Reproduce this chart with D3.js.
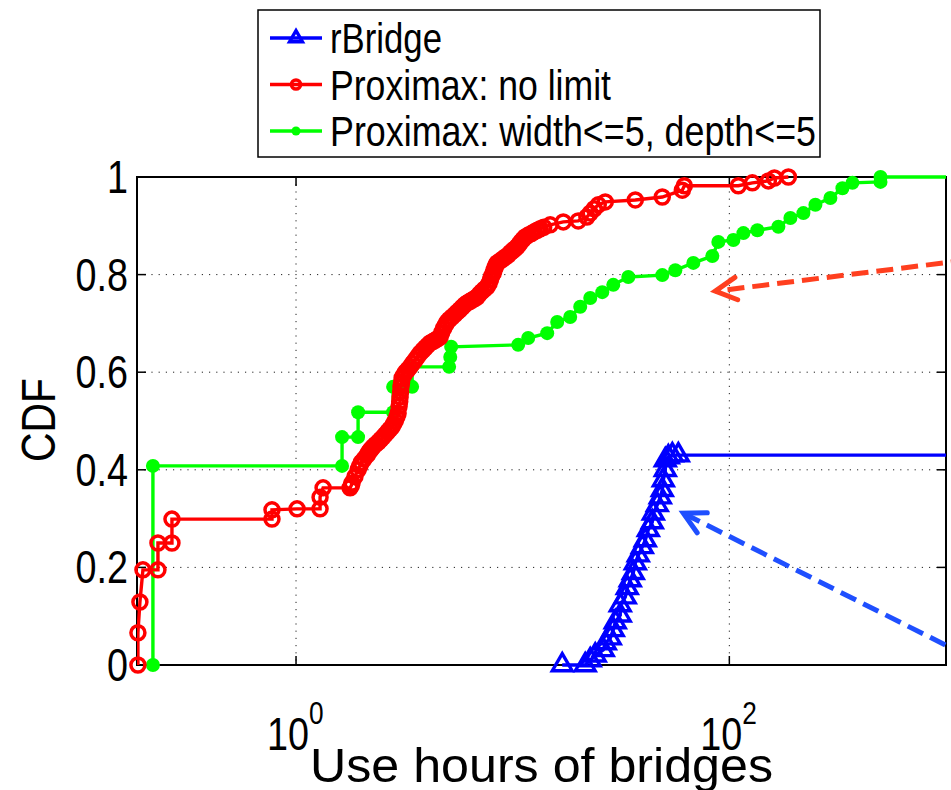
<!DOCTYPE html>
<html>
<head>
<meta charset="utf-8">
<script src="https://cdn.jsdelivr.net/npm/d3@7/dist/d3.min.js"></script>
<style>
  body { margin: 0; background: #fff; }
  svg text { font-family: "Liberation Sans", Arial, sans-serif; fill: #000; }
</style>
</head>
<body>
<div id="chart"></div>
<script>
// ticks
const X_TICKS = [1, 100];
const X_TICK_EXP = ['0', '2'];
const Y_TICKS = [0, 0.2, 0.4, 0.6, 0.8, 1];
const Y_TICK_LABELS = ['0', '0.2', '0.4', '0.6', '0.8', '1'];
const Y_GRID = [0.2, 0.4, 0.6, 0.8];

// rBridge (stairs vertices, hours / cdf)
const rbHours = [16.93, 21.62, 22.80, 24.05, 26.18, 26.75, 28.21, 29.13, 29.75, 31.37, 31.37, 33.08,
  33.80, 34.89, 36.03, 36.81, 37.99, 39.65, 40.93, 42.26, 44.10, 44.57, 46.50, 48.01, 49.04,
  49.57, 50.64, 50.64, 52.28, 54.55, 58.15, 2000];
const rbCdf = [0, 0, 0.010, 0.020, 0.031, 0.045, 0.055, 0.072, 0.088, 0.102, 0.123, 0.139,
  0.158, 0.174, 0.189, 0.209, 0.225, 0.242, 0.256, 0.277, 0.293, 0.311, 0.328, 0.344, 0.359,
  0.379, 0.400, 0.420, 0.426, 0.430, 0.430, 0.430];

// Proximax: no limit
const pmHours = [0.1863, 0.1863, 0.1903, 0.1965, 0.2305, 0.2305, 0.2675, 0.2675, 0.7746, 0.7746,
  1.011, 1.291, 1.291, 1.333, 1.776, 1.80, 1.814, 1.87, 1.934, 1.97, 2.0, 2.06, 2.128, 2.16, 2.2,
  2.23, 2.268, 2.33, 2.4, 2.46, 2.522, 2.58, 2.65, 2.71, 2.776, 2.82, 2.87, 2.92, 2.959, 2.99,
  3.01, 3.023, 3.04, 3.05, 3.07, 3.088, 3.14, 3.2, 3.28, 3.362, 3.45, 3.55, 3.64, 3.739, 3.85,
  3.95, 4.05, 4.158, 4.28, 4.4, 4.51, 4.625, 4.7, 4.8, 4.9, 4.984, 5.1, 5.25, 5.4, 5.542, 5.7,
  5.85, 6.0, 6.164, 6.33, 6.5, 6.68, 6.855, 7.02, 7.2, 7.4, 7.624, 7.78, 7.9, 8.0, 8.126, 8.2,
  8.3, 8.4, 8.479, 8.75, 9.0, 9.25, 9.533, 9.75, 10.0, 10.25, 10.49, 10.7, 10.9, 11.15, 11.42,
  11.8, 12.2, 12.6, 12.98, 13.4, 13.9, 14.90, 17.12, 20.07, 22.0, 22.80, 23.8, 24.83, 26.75, 36.81,
  49.04, 60.67, 61.97, 110.0, 127.7, 151.4, 161.4, 187.3];
const pmCdf = [0, 0.066, 0.129, 0.195, 0.195, 0.25, 0.25, 0.299, 0.299, 0.318,
  0.320, 0.320, 0.344, 0.363, 0.363, 0.368, 0.373, 0.386, 0.400, 0.408, 0.415, 0.422, 0.430, 0.435, 0.440,
  0.443, 0.447, 0.452, 0.457, 0.462, 0.467, 0.472, 0.478, 0.483, 0.488, 0.494, 0.500, 0.508, 0.516, 0.530,
  0.540, 0.549, 0.560, 0.570, 0.579, 0.588, 0.594, 0.600, 0.605, 0.611, 0.618, 0.625, 0.632, 0.639, 0.645,
  0.650, 0.655, 0.660, 0.663, 0.666, 0.669, 0.672, 0.681, 0.690, 0.697, 0.703, 0.708, 0.713, 0.718, 0.723, 0.728,
  0.733, 0.738, 0.742, 0.745, 0.748, 0.751, 0.754, 0.760, 0.765, 0.770, 0.775, 0.782, 0.790, 0.797, 0.803, 0.809,
  0.815, 0.820, 0.824, 0.828, 0.832, 0.836, 0.840, 0.845, 0.849, 0.853, 0.857, 0.862, 0.867, 0.872, 0.877,
  0.881, 0.884, 0.888, 0.891, 0.894, 0.897, 0.902, 0.908, 0.910, 0.918, 0.926, 0.935, 0.943, 0.949, 0.953,
  0.959, 0.973, 0.982, 0.982, 0.988, 0.992, 0.998, 1.0];

// Proximax: width<=5, depth<=5
const pwHours = [0.2185, 0.2185, 1.631, 1.631, 1.934, 1.934, 2.806, 2.806, 3.434, 3.434, 5.089, 5.15,
  5.20, 10.60, 11.79, 14.43, 16.05, 18.43, 20.50, 22.80, 25.91, 29.13, 34.17, 49.04, 56.32, 68.20,
  83.45, 88.96, 104.4, 116.1, 134.7, 168.4, 191.3, 219.7, 249.6, 292.7, 332.6, 370.0, 498.5, 498.5, 2000];
const pwCdf = [0, 0.408, 0.408, 0.467, 0.467, 0.518, 0.518, 0.570, 0.570, 0.611, 0.611, 0.631,
  0.652, 0.656, 0.670, 0.680, 0.703, 0.713, 0.734, 0.752, 0.764, 0.779, 0.795, 0.799, 0.809, 0.824,
  0.838, 0.867, 0.871, 0.885, 0.891, 0.898, 0.916, 0.926, 0.943, 0.957, 0.977, 0.988, 0.990, 1.0, 1.0];

const LEGEND_LABELS = ['rBridge', 'Proximax: no limit', 'Proximax: width<=5, depth<=5'];

// annotation arrows, in data units: [hours, cdf]
const RED_ARROW = [[1259, 0.830], [86.1, 0.766]];
const BLUE_ARROW = [[1259, 0.018], [61.3, 0.311]];

const WIDTH = 951;
const HEIGHT = 790;
const PLOT = {left: 137, right: 946, top: 177, bottom: 665};
const NARROW = 0.82; // the figure's Helvetica is squeezed horizontally

const BLUE = '#0000ff';
const RED = '#ff0000';
const GREEN = '#00ff00';

const svg = d3.select('#chart')
  .append('svg')
    .attr('width', WIDTH)
    .attr('height', HEIGHT);

const x = d3.scaleLog()
  .domain([0.1845, 1000])
  .range([PLOT.left, PLOT.right]);

const y = d3.scaleLinear()
  .domain([0, 1])
  .range([PLOT.bottom, PLOT.top]);

// squeeze a text selection to NARROW of its natural width
function narrow(sel) {
  sel.each(function() {
    const len = this.getComputedTextLength();
    d3.select(this)
      .attr('textLength', len * NARROW)
      .attr('lengthAdjust', 'spacingAndGlyphs');
  });
}

svg.append('defs').append('clipPath')
    .attr('id', 'plot-clip')
  .append('rect')
    .attr('x', PLOT.left)
    .attr('y', PLOT.top - 2)
    .attr('width', PLOT.right - PLOT.left)
    .attr('height', PLOT.bottom - PLOT.top + 4);

// dotted grid
const grid = svg.append('g')
  .attr('stroke', '#222')
  .attr('stroke-width', 1)
  .attr('stroke-dasharray', '1.2,6');

grid.selectAll('.gy')
  .data(Y_GRID)
  .enter().append('line')
    .attr('x1', PLOT.left)
    .attr('x2', PLOT.right)
    .attr('y1', d => y(d))
    .attr('y2', d => y(d));

grid.selectAll('.gx')
  .data(X_TICKS)
  .enter().append('line')
    .attr('x1', d => x(d))
    .attr('x2', d => x(d))
    .attr('y1', PLOT.top)
    .attr('y2', PLOT.bottom);

// axis box + inside ticks
svg.append('rect')
  .attr('x', PLOT.left)
  .attr('y', PLOT.top)
  .attr('width', PLOT.right - PLOT.left)
  .attr('height', PLOT.bottom - PLOT.top)
  .attr('fill', 'none')
  .attr('stroke', '#000')
  .attr('stroke-width', 2);

const ticks = svg.append('g').attr('stroke', '#000').attr('stroke-width', 1.5);
const TICK_LEN = 9;
Y_TICKS.forEach(t => {
  ticks.append('line').attr('x1', PLOT.left).attr('x2', PLOT.left + TICK_LEN).attr('y1', y(t)).attr('y2', y(t));
  ticks.append('line').attr('x1', PLOT.right).attr('x2', PLOT.right - TICK_LEN).attr('y1', y(t)).attr('y2', y(t));
});
X_TICKS.forEach(t => {
  ticks.append('line').attr('x1', x(t)).attr('x2', x(t)).attr('y1', PLOT.bottom).attr('y2', PLOT.bottom - TICK_LEN);
  ticks.append('line').attr('x1', x(t)).attr('x2', x(t)).attr('y1', PLOT.top).attr('y2', PLOT.top + TICK_LEN);
});

// tick labels
svg.selectAll('.ylab')
  .data(Y_TICKS)
  .enter().append('text')
    .attr('class', 'ylab')
    .attr('x', PLOT.left - 9)
    .attr('y', d => y(d) + 16)
    .attr('text-anchor', 'end')
    .attr('font-size', 46)
    .text((d, i) => Y_TICK_LABELS[i])
    .call(narrow);

// 10^k labels: base and raised exponent in one text
X_TICKS.forEach((t, i) => {
  const lab = svg.append('text')
    .attr('x', x(t) - 29)
    .attr('y', 750)
    .attr('font-size', 46);
  lab.append('tspan').text('10');
  lab.append('tspan')
    .attr('dy', -26)
    .attr('font-size', 32)
    .text(X_TICK_EXP[i]);
  lab.call(narrow);
});

// axis titles
svg.append('text')
  .attr('x', (PLOT.left + PLOT.right) / 2)
  .attr('y', 782)
  .attr('text-anchor', 'middle')
  .attr('font-size', 49)
  .attr('textLength', 463)
  .attr('lengthAdjust', 'spacingAndGlyphs')
  .text('Use hours of bridges');

svg.append('text')
  .attr('transform', 'translate(55,420) rotate(-90)')
  .attr('text-anchor', 'middle')
  .attr('font-size', 49)
  .attr('textLength', 84)
  .attr('lengthAdjust', 'spacingAndGlyphs')
  .text('CDF');

// series
const line = d3.line().x(d => x(d[0])).y(d => y(d[1]));
const inDomain = d => d[0] >= x.domain()[0] && d[0] <= x.domain()[1];

const series = [
  {pts: d3.zip(pwHours, pwCdf), color: GREEN, marker: 'dot'},
  {pts: d3.zip(pmHours, pmCdf), color: RED, marker: 'circle'},
  {pts: d3.zip(rbHours, rbCdf), color: BLUE, marker: 'tri'}
];

function drawMarker(g, kind, color, cx, cy, scale) {
  scale = scale || 1;
  if (kind === 'dot') {
    g.append('circle').attr('cx', cx).attr('cy', cy).attr('r', 7 * scale).attr('fill', color);
  } else if (kind === 'circle') {
    g.append('circle').attr('cx', cx).attr('cy', cy).attr('r', 7 * scale)
      .attr('fill', 'none').attr('stroke', color).attr('stroke-width', 3.5);
  } else {
    g.append('path')
      .attr('d', d3.symbol(d3.symbolTriangle, 170 * scale * scale)())
      .attr('transform', `translate(${cx},${cy})`)
      .attr('fill', 'none').attr('stroke', color).attr('stroke-width', 3.4);
  }
}

series.forEach(s => {
  const g = svg.append('g');
  g.append('path')
    .attr('d', line(s.pts))
    .attr('fill', 'none')
    .attr('stroke', s.color)
    .attr('stroke-width', 3.4)
    .attr('clip-path', 'url(#plot-clip)');
  s.pts.filter(inDomain).forEach(p => drawMarker(g, s.marker, s.color, x(p[0]), y(p[1])));
});

// dashed annotation arrows
function arrow(pts, color) {
  const [p0, p1] = pts.map(p => [x(p[0]), y(p[1])]);
  const g = svg.append('g')
    .attr('stroke', color)
    .attr('stroke-width', 5)
    .attr('fill', 'none');
  g.append('line')
    .attr('x1', p0[0]).attr('y1', p0[1])
    .attr('x2', p1[0]).attr('y2', p1[1])
    .attr('stroke-dasharray', '17,8');
  const ang = Math.atan2(p0[1] - p1[1], p0[0] - p1[0]);
  const a = 28 * Math.PI / 180;
  const len = 24;
  g.append('path')
    .attr('stroke-linecap', 'round')
    .attr('d', `M${p1[0] + len * Math.cos(ang - a)},${p1[1] + len * Math.sin(ang - a)}` +
      `L${p1[0]},${p1[1]}` +
      `L${p1[0] + len * Math.cos(ang + a)},${p1[1] + len * Math.sin(ang + a)}`);
}
arrow(RED_ARROW, '#ff3f1f');
arrow(BLUE_ARROW, '#1f4fff');

// legend
const legend = svg.append('g');
legend.append('rect')
  .attr('x', 258)
  .attr('y', 10)
  .attr('width', 562)
  .attr('height', 147)
  .attr('fill', '#fff')
  .attr('stroke', '#000')
  .attr('stroke-width', 1.5);

const legendWidths = [112, 281, 486];
const legendSeries = [series[2], series[1], series[0]];
legendSeries.forEach((s, i) => {
  const cy = 38 + i * 46.5;
  legend.append('line')
    .attr('x1', 270).attr('x2', 322)
    .attr('y1', cy).attr('y2', cy)
    .attr('stroke', s.color)
    .attr('stroke-width', 3.4);
  drawMarker(legend, s.marker, s.color, 296, cy, 0.65);
  legend.append('text')
    .attr('x', 330)
    .attr('y', cy + 15)
    .attr('font-size', 43)
    .attr('textLength', legendWidths[i])
    .attr('lengthAdjust', 'spacingAndGlyphs')
    .text(LEGEND_LABELS[i]);
});
</script>
</body>
</html>
